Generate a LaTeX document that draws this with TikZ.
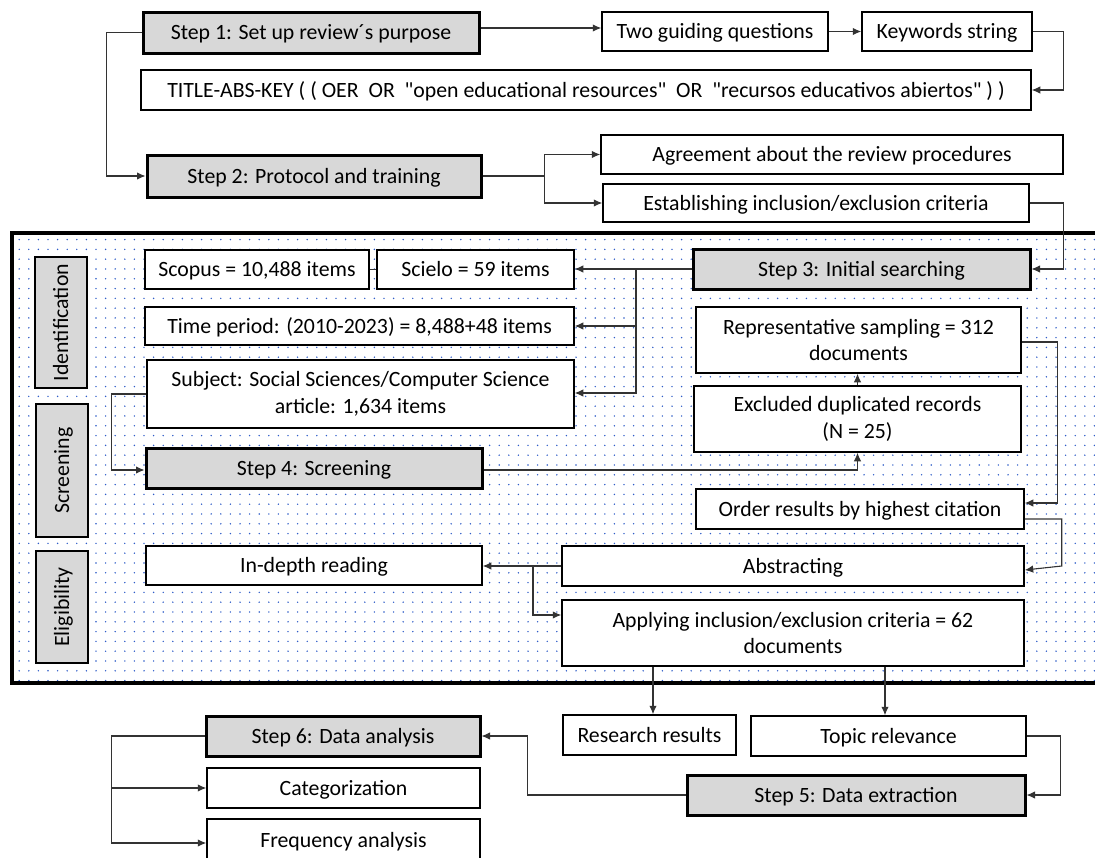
\documentclass[tikz,border=0pt]{standalone}
\usepackage{fontspec}
\setmainfont{Carlito}[Ligatures=TeXOff]
\usetikzlibrary{arrows.meta,calc,patterns}
\definecolor{stepgray}{HTML}{D8D8D8}
\definecolor{dotblue}{HTML}{2E5CC8}
\definecolor{linegray}{HTML}{333333}
\pgfdeclarepatternformonly{bluedots}{\pgfpoint{-1pt}{-1pt}}{\pgfpoint{1pt}{1pt}}{\pgfpoint{9.6pt}{9.8pt}}{\pgfpathcircle{\pgfpointorigin}{0.8pt}\pgfusepath{fill}}
\begin{document}
\begin{tikzpicture}[x=1pt,y=-1pt,
 every node/.style={font=\fontsize{21.8}{26.5}\selectfont, inner sep=0pt, align=center},
 one/.style={text height=19.6pt, text depth=5.2pt},
 wbox/.style={draw=black, line width=1.5pt, fill=white},
 sbox/.style={draw=black, line width=3pt, fill=stepgray, one},
 side/.style={draw=black, line width=1.5pt, fill=stepgray, rotate=90, one},
 conn/.style={draw=linegray, line width=1.1pt},
 arr/.style={conn, -{Latex[length=8.5pt,width=7.5pt]}}]
\fill[white] (0,0) rectangle (1095,857);
\useasboundingbox (0,0) rectangle (1095,857);

% dotted frame
\draw[line width=4.8pt, pattern=bluedots, pattern color=dotblue] (12,233) rectangle (1112,683);

% top part
\node[sbox, minimum width=336pt, minimum height=41pt] (step1) at (311,32.5) {Step 1: Set up review´s purpose};
\node[wbox, one, minimum width=226pt, minimum height=39pt] (tgq) at (715,31.5) {Two guiding questions};
\node[wbox, one, minimum width=170pt, minimum height=39pt] (kw) at (947,31.5) {Keywords string};
\node[wbox, one, minimum width=890pt, minimum height=40pt] (title) at (586,90) {TITLE-ABS-KEY ( ( OER \ OR \ "open educational resources" \ OR \ "recursos educativos abiertos" ) )};
\node[sbox, minimum width=334pt, minimum height=42pt] (step2) at (314,176) {Step 2: Protocol and training};
\node[wbox, one, minimum width=462pt, minimum height=39pt] (agree) at (832,154.5) {Agreement about the review procedures};
\node[wbox, one, minimum width=426pt, minimum height=38pt] (estab) at (816,203) {Establishing inclusion/exclusion criteria};

% side labels
\node[side, minimum width=131pt, minimum height=52pt] (ident) at (61,322.5) {Identification};
\node[side, minimum width=133pt, minimum height=52pt] (screen) at (62,470.5) {Screening};
\node[side, minimum width=112pt, minimum height=52pt] (elig) at (62,607) {Eligibility};

% inside frame
\node[wbox, one, minimum width=224pt, minimum height=39pt] (scopus) at (257,269.5) {Scopus = 10,488 items};
\node[wbox, one, minimum width=197pt, minimum height=39pt] (scielo) at (475.5,269.5) {Scielo = 59 items};
\node[wbox, one, minimum width=429pt, minimum height=38pt] (time) at (359.5,326) {Time period: (2010-2023) = 8,488+48 items};
\node[wbox, minimum width=427pt, minimum height=68pt] (subject) at (360.5,394) {Subject: Social Sciences/Computer Science\\article: 1,634 items};
\node[sbox, minimum width=337pt, minimum height=40pt] (step3) at (861.5,269) {Step 3: Initial searching};
\node[wbox, minimum width=325pt, minimum height=66pt] (repr) at (858.5,340) {Representative sampling = 312\\documents};
\node[wbox, minimum width=327pt, minimum height=66pt] (excl) at (857.5,419) {Excluded duplicated records\\(N = 25)};
\node[sbox, minimum width=336pt, minimum height=40pt] (step4) at (314,468) {Step 4: Screening};
\node[wbox, one, minimum width=328pt, minimum height=40pt] (order) at (860,509) {Order results by highest citation};
\node[wbox, one, minimum width=462pt, minimum height=40pt] (abstr) at (793,566) {Abstracting};
\node[wbox, one, minimum width=336pt, minimum height=39pt] (indepth) at (314,565.5) {In-depth reading};
\node[wbox, minimum width=462pt, minimum height=66pt] (apply) at (793,633) {Applying inclusion/exclusion criteria = 62\\documents};

% bottom part
\node[wbox, one, minimum width=173pt, minimum height=40pt] (research) at (649.5,735) {Research results};
\node[wbox, one, minimum width=275pt, minimum height=40pt] (topic) at (888.5,736) {Topic relevance};
\node[sbox, minimum width=338pt, minimum height=40pt] (step5) at (856,795) {Step 5: Data extraction};
\node[sbox, minimum width=274pt, minimum height=40pt] (step6) at (343,736) {Step 6: Data analysis};
\node[wbox, one, minimum width=273pt, minimum height=40pt] (cat) at (343.5,788) {Categorization};
\node[wbox, one, minimum width=273pt, minimum height=42pt] (freq) at (343.5,840) {Frequency analysis};

% connectors
\draw[arr] (step1.east |- 0,28) -- (tgq.west |- 0,28);
\draw[arr] (tgq.east) -- (kw.west);
\draw[arr] (kw.east) -- ++(31,0) |- (title.east);
\draw[arr] (step1.west) -| ($(step2.west)+(-39,0)$) -- (step2.west);
\draw[arr] (step2.east) -- ++(62,0) |- (agree.west);
\draw[arr] (step2.east) -- ++(62,0) |- (estab.west);
\draw[arr] (estab.east) -- ++(34,0) |- (step3.east);
\draw[arr] (step3.west) -- (step3.west -| scielo.east);
\coordinate (j3) at (636,269);
\draw[arr] (j3) |- (time.east);
\draw[arr] (j3) |- ([yshift=1pt]subject.east);
\draw[conn] (scopus.east) -- (scielo.west);
\draw[arr] (subject.west) -- ++(-35,0) |- ([yshift=-2pt]step4.west);
\draw[arr] ([yshift=-2pt]step4.east) -| (excl.south);
\draw[arr] (excl.north) -- (excl.north |- repr.south);
\draw[arr] ([yshift=-2pt]repr.east) -- ++(36,0) |- ([yshift=6pt]order.east);
\draw[arr] ([yshift=-10pt]order.east) -| ($(abstr.east)+(37,0)$) -- ([yshift=-4pt]abstr.east);
\draw[arr] (abstr.west) -- (abstr.west -| indepth.east);
\draw[arr] (abstr.west -| 533,0) |- ([yshift=18pt]apply.west);
\draw[arr] (apply.south -| 653,0) -- (research.north -| 653,0);
\draw[arr] (apply.south -| 885,0) -- (topic.north -| 885,0);
\draw[arr] (topic.east) -- ++(34,0) |- (step5.east);
\draw[arr] (step5.west) -| ($(step6.east)+(46,0)$) -- (step6.east);
\draw[arr] (step6.west) -- ++(-93,0) |- (cat.west);
\draw[arr] (step6.west) -- ++(-93,0) |- ([yshift=-3pt]freq.west);
\end{tikzpicture}
\end{document}
